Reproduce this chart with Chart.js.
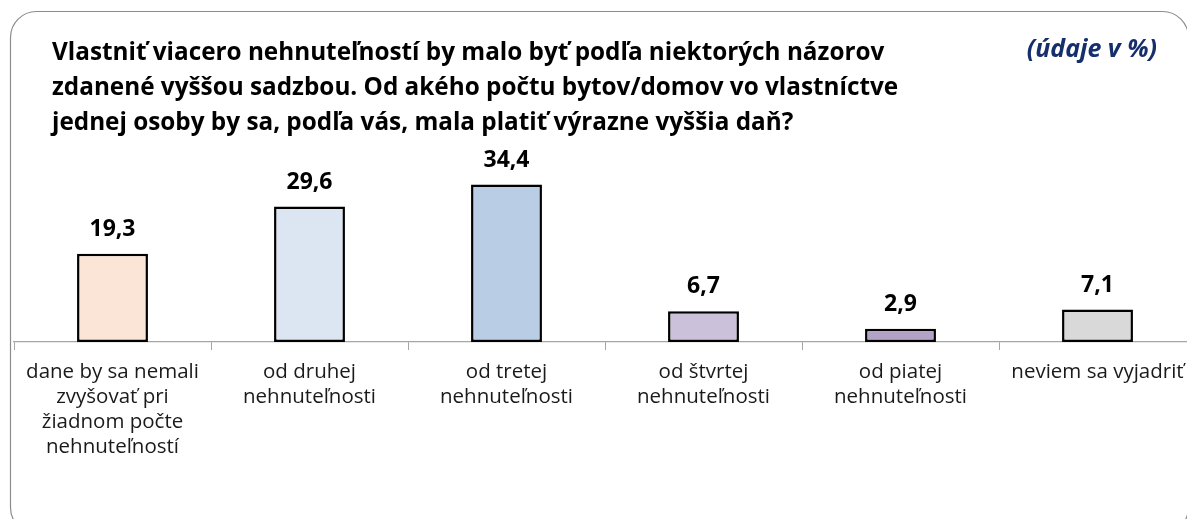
<!DOCTYPE html>
<html>
<head>
<meta charset="utf-8">
<script src="https://cdn.jsdelivr.net/npm/chart.js@4.4.0/dist/chart.umd.min.js"></script>
<style>
  html, body { margin: 0; padding: 0; background: #fff; overflow: hidden; }
  #wrap { position: relative; width: 1200px; height: 519px; }
</style>
</head>
<body>
<div id="wrap"><canvas id="chart" width="1200" height="519"></canvas></div>
<script>
const categories = [
  ["dane by sa nemali", "zvyšovať pri", "žiadnom počte", "nehnuteľností"],
  ["od druhej", "nehnuteľnosti"],
  ["od tretej", "nehnuteľnosti"],
  ["od štvrtej", "nehnuteľnosti"],
  ["od piatej", "nehnuteľnosti"],
  "neviem sa vyjadriť"
];
const values = [19.3, 29.6, 34.4, 6.7, 2.9, 7.1];
const barColors = ["#fbe5d6", "#dce6f2", "#b9cde5", "#ccc1da", "#b3a2c7", "#d9d9d9"];

const titleLines = [
  "Vlastniť viacero nehnuteľností by malo byť podľa niektorých názorov",
  "zdanené vyššou sadzbou. Od akého počtu bytov/domov vo vlastníctve",
  "jednej osoby by sa, podľa vás, mala platiť výrazne vyššia daň?"
];
const unitNote = "(údaje v %)";

const fontFamily = "'Open Sans', Lato, sans-serif";

// frame + title + note
const framePlugin = {
  id: "frame",
  beforeDraw(chart) {
    const ctx = chart.ctx;
    ctx.save();
    ctx.strokeStyle = "#8c8c8c";
    ctx.lineWidth = 1.2;
    ctx.beginPath();
    ctx.roundRect(10.5, 11.5, 1178, 522, 26);
    ctx.stroke();

    ctx.fillStyle = "#000";
    ctx.font = "bold 24.3px " + fontFamily;
    ctx.textAlign = "left";
    ctx.textBaseline = "alphabetic";
    titleLines.forEach((t, i) => ctx.fillText(t, 52, 60 + i * 35));

    ctx.fillStyle = "#142f6b";
    ctx.font = "italic bold 25px " + fontFamily;
    ctx.textAlign = "right";
    ctx.fillText(unitNote, 1157, 57);
    ctx.restore();
  }
};

// value labels above bars
const valueLabels = {
  id: "valueLabels",
  afterDatasetsDraw(chart) {
    const ctx = chart.ctx;
    const meta = chart.getDatasetMeta(0);
    ctx.save();
    ctx.fillStyle = "#000";
    ctx.font = "bold 23px " + fontFamily;
    ctx.textAlign = "center";
    ctx.textBaseline = "alphabetic";
    meta.data.forEach((bar, i) => {
      ctx.fillText(values[i].toFixed(1).replace(".", ","), bar.x, bar.y - 18);
    });
    ctx.restore();
  }
};

new Chart(document.getElementById("chart"), {
  type: "bar",
  data: {
    labels: categories,
    datasets: [{
      data: values,
      backgroundColor: barColors,
      borderColor: "#000",
      borderWidth: 2.5,
      borderSkipped: false,
      categoryPercentage: 1,
      barPercentage: 0.36
    }]
  },
  options: {
    responsive: false,
    animation: false,
    layout: { padding: { left: 14, right: 4, top: 159, bottom: 49 } },
    plugins: {
      legend: { display: false },
      tooltip: { enabled: false },
      title: { display: false }
    },
    scales: {
      x: {
        offset: true,
        grid: {
          offset: true,
          drawOnChartArea: false,
          drawTicks: true,
          tickLength: 8,
          color: "#a6a6a6"
        },
        border: { color: "#a6a6a6", width: 1.2 },
        ticks: {
          color: "#1a1a1a",
          font: { family: fontFamily, size: 20.5, lineHeight: "25px" },
          padding: 10,
          maxRotation: 0,
          autoSkip: false
        }
      },
      y: {
        display: false,
        min: 0,
        max: 40
      }
    }
  },
  plugins: [framePlugin, valueLabels]
});
</script>
</body>
</html>
